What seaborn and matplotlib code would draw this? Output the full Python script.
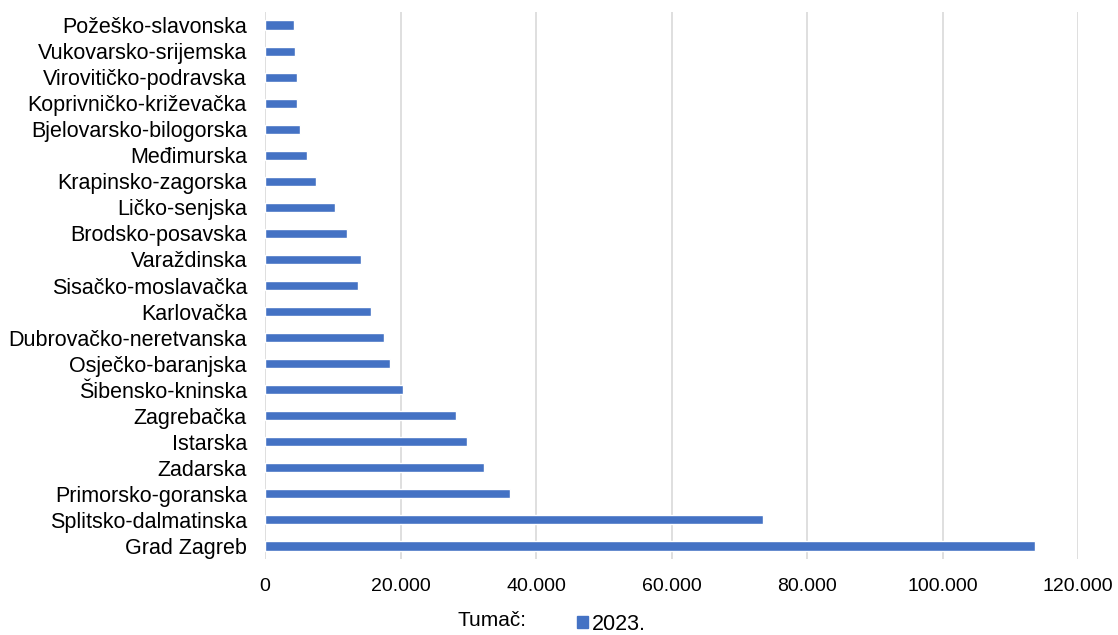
import matplotlib
matplotlib.use('Agg')
import matplotlib.pyplot as plt
from matplotlib.patches import Patch
from matplotlib.ticker import FuncFormatter
import seaborn as sns
import pandas as pd

zupanije = ['Požeško-slavonska', 'Vukovarsko-srijemska', 'Virovitičko-podravska',
            'Koprivničko-križevačka', 'Bjelovarsko-bilogorska', 'Međimurska',
            'Krapinsko-zagorska', 'Ličko-senjska', 'Brodsko-posavska', 'Varaždinska',
            'Sisačko-moslavačka', 'Karlovačka', 'Dubrovačko-neretvanska',
            'Osječko-baranjska', 'Šibensko-kninska', 'Zagrebačka', 'Istarska',
            'Zadarska', 'Primorsko-goranska', 'Splitsko-dalmatinska', 'Grad Zagreb']
vrijednosti_2023 = [4280, 4430, 4720, 4720, 5210, 6140, 7570, 10270, 12150, 14170,
                    13730, 15590, 17500, 18450, 20370, 28190, 29820, 32270, 36100,
                    73500, 113700]
x_ticks = [0, 20000, 40000, 60000, 80000, 100000, 120000]

df = pd.DataFrame({'Županija': zupanije, 'Vrijednost': vrijednosti_2023})

sns.set_style('white')
plt.rcParams['font.family'] = ['Liberation Sans', 'DejaVu Sans']
plt.rcParams['text.color'] = 'black'
plt.rcParams['xtick.color'] = 'black'
plt.rcParams['ytick.color'] = 'black'

boja = '#4472C4'
fig = plt.figure(figsize=(11.18, 6.35), dpi=100)
ax = fig.add_axes([265 / 1118, 1 - 559 / 635, (1078 - 265) / 1118, (559 - 12) / 635])

sns.barplot(data=df, x='Vrijednost', y='Županija', orient='h', color=boja,
            width=0.35, saturation=1, ax=ax, zorder=3)

ax.set_xlim(0, 120000)
ax.set_xticks(x_ticks)
ax.xaxis.set_major_formatter(FuncFormatter(lambda v, p: f'{int(v):,}'.replace(',', '.')))
ax.grid(axis='x', color='#d9d9d9', linewidth=1.2, zorder=0)
for s in ax.spines.values():
    s.set_visible(False)
ax.tick_params(axis='both', length=0)
ax.tick_params(axis='x', labelsize=14, pad=14)
ax.tick_params(axis='y', labelsize=15.5, pad=13)
ax.set_xlabel('')
ax.set_ylabel('')

fig.text(492 / 1118, 1 - 621 / 635, 'Tumač:', fontsize=15, ha='center', va='center')
fig.legend(handles=[Patch(color=boja, label='2023.')], loc='center left',
           bbox_to_anchor=(566 / 1118, 1 - 624 / 635), frameon=False, fontsize=15.5,
           handlelength=0.5, handleheight=0.5, handletextpad=0.2, borderpad=0)

fig.savefig('out.png', dpi=100)
